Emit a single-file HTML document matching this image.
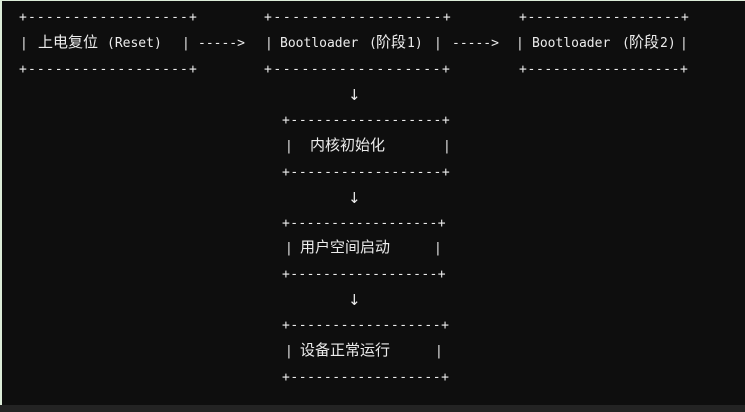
<!DOCTYPE html>
<html><head><meta charset="utf-8"><style>
html,body{margin:0;padding:0;}
body{width:745px;height:412px;background:#232323;position:relative;overflow:hidden;}
#bg{position:absolute;left:0;top:0;width:745px;height:405px;background:#0e0e0e;border-top:1px solid #dcecd8;border-left:2px solid #dcecd8;box-sizing:border-box;}
.t{position:absolute;font-family:"DejaVu Sans Mono","Noto Sans CJK SC",monospace;font-size:13px;color:#ececec;white-space:pre;line-height:18px;}
.c{font-family:"Noto Sans CJK SC",sans-serif;font-size:15px;}
.a{position:absolute;font-family:"DejaVu Sans",sans-serif;font-size:15px;color:#ececec;line-height:18px;}
</style></head><body>
<div id="bg"></div>
<!-- row 1 -->
<div class="t" style="left:19px;top:9px;letter-spacing:1.12px">+------------------+</div>
<div class="t" style="left:264px;top:9px;letter-spacing:1.59px">+------------------+</div>
<div class="t" style="left:519px;top:9px;letter-spacing:0.70px">+------------------+</div>
<div class="t" style="left:19px;top:61px;letter-spacing:1.12px">+------------------+</div>
<div class="t" style="left:264px;top:61px;letter-spacing:1.54px">+------------------+</div>
<div class="t" style="left:519px;top:61px;letter-spacing:0.65px">+------------------+</div>
<div class="t" style="left:20px;top:35px">|</div>
<div class="t c" style="left:38px;top:33px">上电复位</div>
<div class="t" style="left:107px;top:35px">(Reset)</div>
<div class="t" style="left:182px;top:35px">|</div>
<div class="t" style="left:198px;top:35px">-----&gt;</div>
<div class="t" style="left:265px;top:35px">|</div>
<div class="t" style="left:280px;top:35px">Bootloader</div>
<div class="t" style="left:369px;top:35px">(</div>
<div class="t c" style="left:376px;top:33px">阶段</div>
<div class="t" style="left:407px;top:35px">1)</div>
<div class="t" style="left:434px;top:35px">|</div>
<div class="t" style="left:452px;top:35px">-----&gt;</div>
<div class="t" style="left:516px;top:35px">|</div>
<div class="t" style="left:532px;top:35px">Bootloader</div>
<div class="t" style="left:622px;top:35px">(</div>
<div class="t c" style="left:629px;top:33px">阶段</div>
<div class="t" style="left:660px;top:35px">2)</div>
<div class="t" style="left:680px;top:35px">|</div>
<!-- arrows -->
<div class="a" style="left:348px;top:86px">↓</div>
<div class="a" style="left:348px;top:189px">↓</div>
<div class="a" style="left:348px;top:291px">↓</div>
<!-- box 内核 -->
<div class="t" style="left:282px;top:112px;letter-spacing:0.59px">+------------------+</div>
<div class="t" style="left:285px;top:138px">|</div>
<div class="t c" style="left:310px;top:136px">内核初始化</div>
<div class="t" style="left:443px;top:138px">|</div>
<div class="t" style="left:282px;top:164px;letter-spacing:0.59px">+------------------+</div>
<!-- box 用户 -->
<div class="t" style="left:282px;top:215px;letter-spacing:0.37px">+------------------+</div>
<div class="t" style="left:285px;top:240px">|</div>
<div class="t c" style="left:300px;top:238px">用户空间启动</div>
<div class="t" style="left:434px;top:240px">|</div>
<div class="t" style="left:282px;top:266px;letter-spacing:0.37px">+------------------+</div>
<!-- box 设备 -->
<div class="t" style="left:282px;top:317px;letter-spacing:0.55px">+------------------+</div>
<div class="t" style="left:285px;top:343px">|</div>
<div class="t c" style="left:300px;top:341px">设备正常运行</div>
<div class="t" style="left:435px;top:343px">|</div>
<div class="t" style="left:282px;top:369px;letter-spacing:0.55px">+------------------+</div>
</body></html>
